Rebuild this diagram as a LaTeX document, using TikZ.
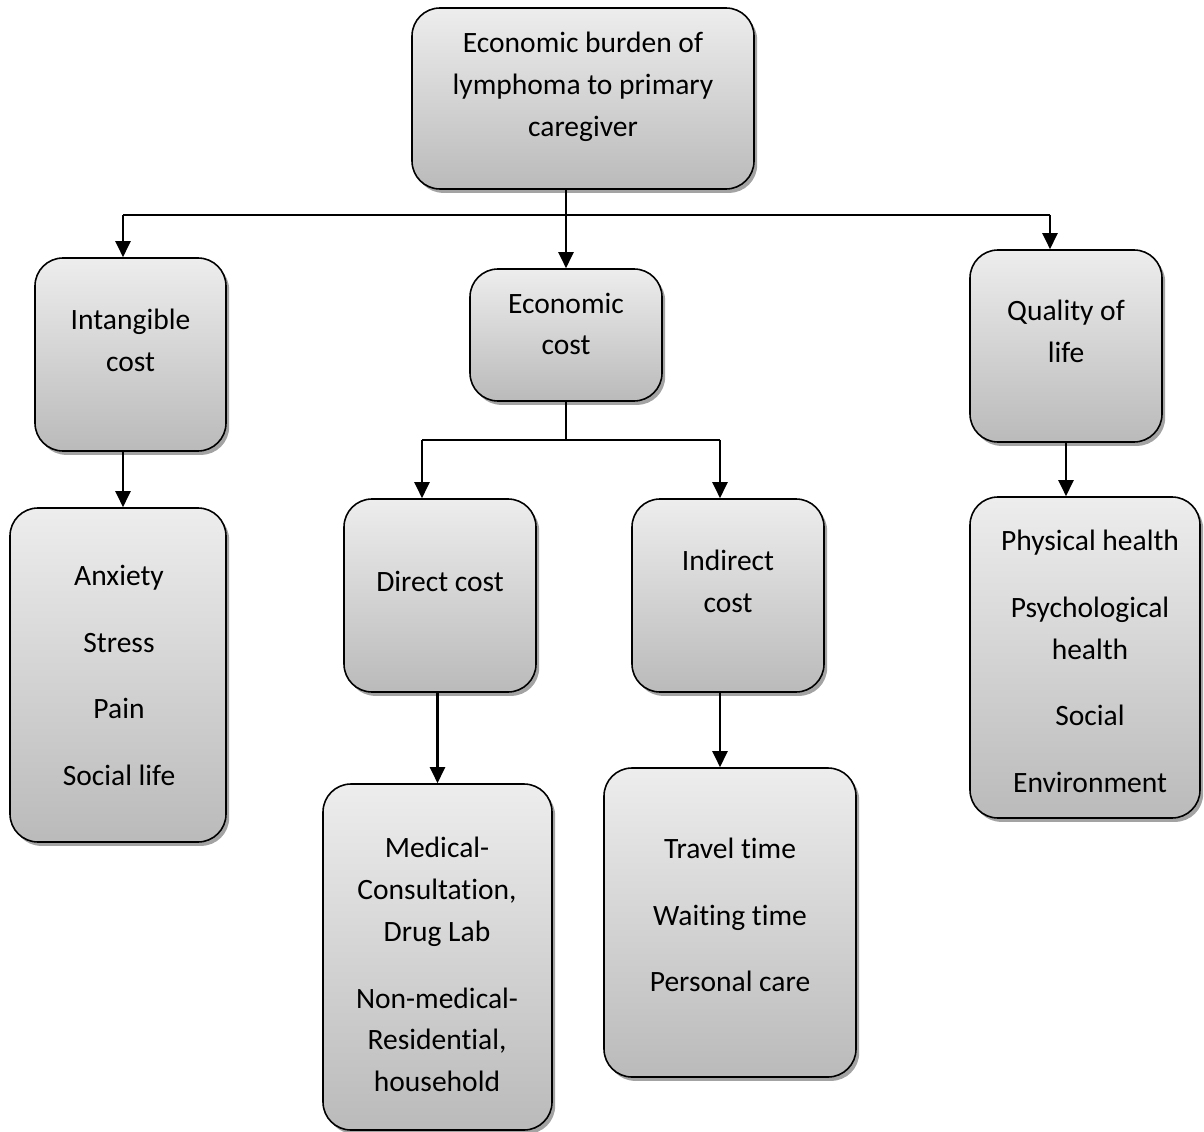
\documentclass[tikz,border=0pt]{standalone}
\usepackage{fontspec}
\setmainfont{Carlito}[Ligatures=NoCommon]
\usetikzlibrary{positioning,shadows,arrows.meta}

\begin{document}
\begin{tikzpicture}[box/.style = {draw, rounded corners=0.28cm, line width=0.45pt, top color=black!7, bottom color=black!27, drop shadow={shadow xshift=0.9pt, shadow yshift=-1.1pt, fill=black!45, opacity=0.8}}, txt/.style = {align=center, inner sep=0pt, font=\fontsize{8.4}{11.9}\selectfont}, link/.style = {line width=0.6pt}, arr/.style = {link, -{Triangle[length=0.16cm, width=0.15cm]}}]
      \useasboundingbox (0,0) rectangle (12.04,-11.32);
      \node[box, minimum width=3.42cm, minimum height=1.81cm] (top) at (5.83,-0.985) {};
      \node[txt] (toptext) at (5.83,-0.87) {Economic burden of\\lymphoma to primary\\caregiver};
      \node[box, minimum width=1.91cm, minimum height=1.93cm] (intang) at (1.305,-3.545) {};
      \node[txt] (intangtext) at (1.305,-3.405) {Intangible\\cost};
      \node[box, minimum width=1.92cm, minimum height=1.32cm] (econ) at (5.66,-3.35) {};
      \node[txt] (econtext) at (5.66,-3.24) {Economic\\cost};
      \node[box, minimum width=1.92cm, minimum height=1.92cm] (qol) at (10.66,-3.46) {};
      \node[txt] (qoltext) at (10.66,-3.315) {Quality of\\life};
      \node[box, minimum width=2.16cm, minimum height=3.34cm] (anx) at (1.18,-6.75) {};
      \node[txt] (anxtext) at (1.19,-6.755) {Anxiety\\[0.25cm]Stress\\[0.25cm]Pain\\[0.25cm]Social life};
      \node[box, minimum width=1.92cm, minimum height=1.93cm] (direct) at (4.40,-5.955) {};
      \node[txt] (directtext) at (4.40,-5.81) {Direct cost};
      \node[box, minimum width=1.92cm, minimum height=1.93cm] (indirect) at (7.28,-5.955) {};
      \node[txt] (indirecttext) at (7.28,-5.815) {Indirect\\cost};
      \node[box, minimum width=2.29cm, minimum height=3.46cm] (med) at (4.375,-9.57) {};
      \node[txt] (medtext) at (4.37,-9.645) {Medical-\\Consultation,\\Drug Lab\\[0.25cm]Non-medical-\\Residential,\\household};
      \node[box, minimum width=2.52cm, minimum height=3.09cm] (travel) at (7.30,-9.225) {};
      \node[txt] (traveltext) at (7.30,-9.15) {Travel time\\[0.25cm]Waiting time\\[0.25cm]Personal care};
      \node[box, minimum width=2.30cm, minimum height=3.21cm] (phys) at (10.85,-6.575) {};
      \node[txt] (phystext) at (10.90,-6.615) {Physical health\\[0.25cm]Psychological\\health\\[0.25cm]Social\\[0.25cm]Environment};
      \coordinate (hl) at (1.23,-2.15);
      \coordinate (hr) at (10.50,-2.15);
      \coordinate (sl) at (4.22,-4.40);
      \coordinate (sr) at (7.20,-4.40);
      \draw[link] (hl) -- (hr);
      \draw[arr] (hl) -- (hl |- intang.north);
      \draw[arr] (hr) -- (hr |- qol.north);
      \draw[arr] (top.south -| econ.north) -- (econ.north);
      \draw[arr] (intang.south -| hl) -- (hl |- anx.north);
      \draw[link] (econ.south) -- (econ.south |- sl);
      \draw[link] (sl) -- (sr);
      \draw[arr] (sl) -- (sl |- direct.north);
      \draw[arr] (sr) -- (sr |- indirect.north);
      \draw[arr] (direct.south -| med.north) -- (med.north);
      \draw[arr] (indirect.south -| sr) -- (sr |- travel.north);
      \draw[arr] (qol.south) -- (qol.south |- phys.north);
    \end{tikzpicture}
\end{document}
